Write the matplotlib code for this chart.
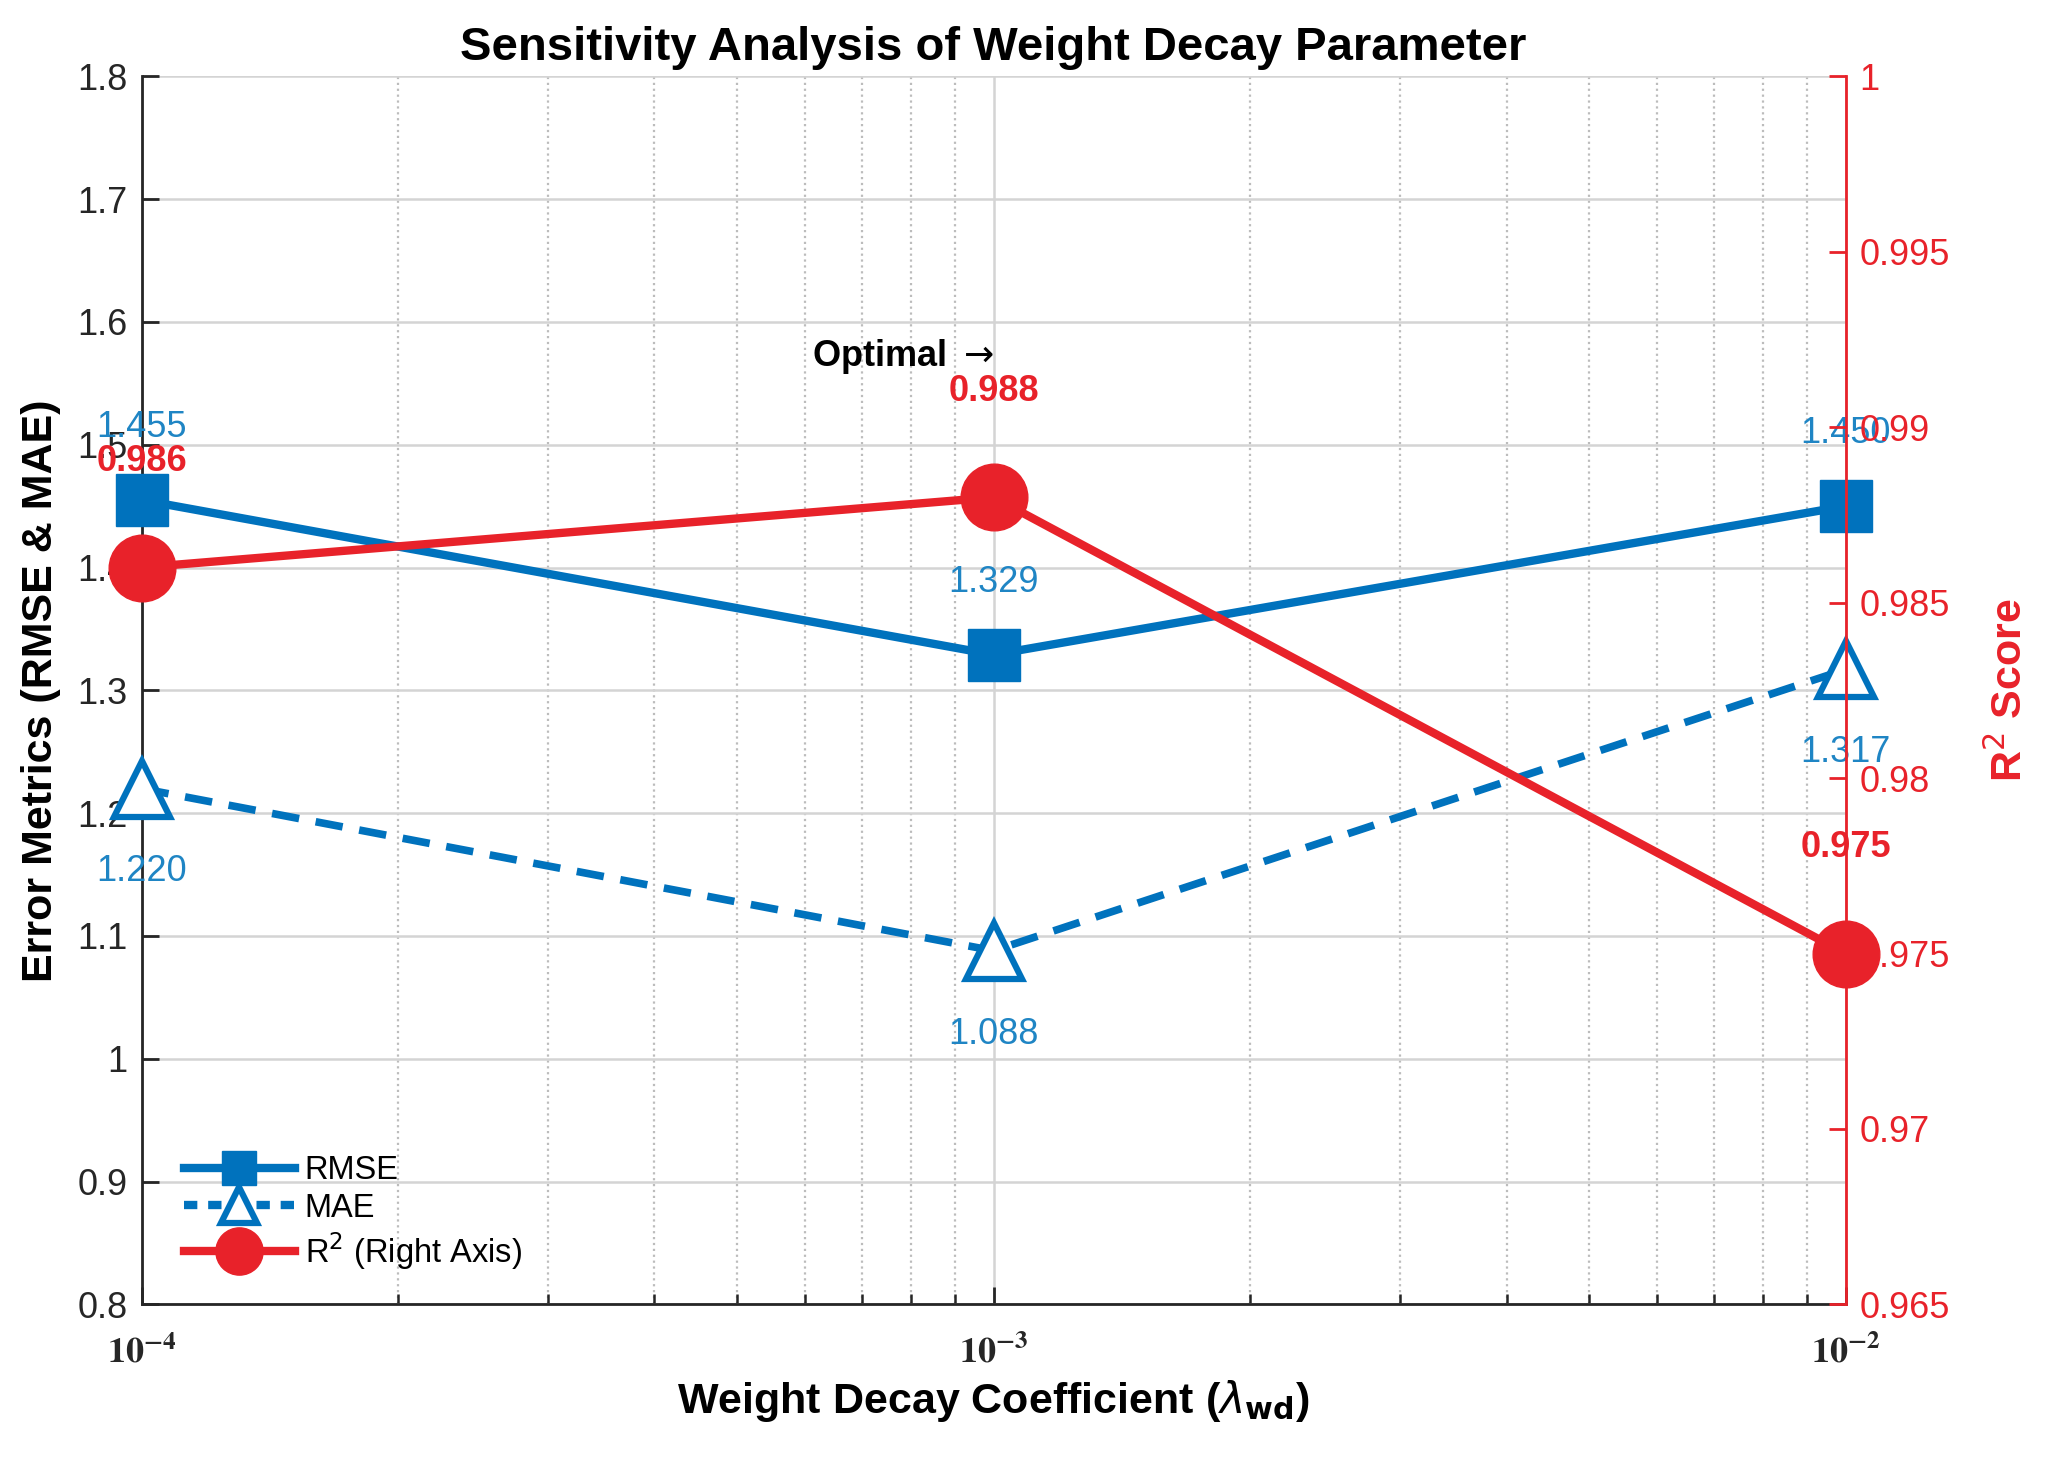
import matplotlib
matplotlib.use("Agg")
import matplotlib.pyplot as plt
from matplotlib.lines import Line2D
from matplotlib.ticker import FixedLocator, LogLocator, NullFormatter

plt.rcParams['font.family'] = ['Liberation Sans', 'DejaVu Sans']

# data
wd = [1e-4, 1e-3, 1e-2]
rmse = [1.455, 1.329, 1.450]
mae = [1.220, 1.088, 1.317]
r2 = [0.986, 0.988, 0.975]

left_ticks = [0.8, 0.9, 1.0, 1.1, 1.2, 1.3, 1.4, 1.5, 1.6, 1.7, 1.8]
left_labels = ['0.8', '0.9', '1', '1.1', '1.2', '1.3', '1.4', '1.5', '1.6', '1.7', '1.8']
right_ticks = [0.965, 0.97, 0.975, 0.98, 0.985, 0.99, 0.995, 1.0]
right_labels = ['0.965', '0.97', '0.975', '0.98', '0.985', '0.99', '0.995', '1']
x_labels = [r'$\mathbf{10^{-4}}$', r'$\mathbf{10^{-3}}$', r'$\mathbf{10^{-2}}$']

blue = '#0072BD'
blue_txt = '#1F85C4'
red = '#E8222A'

fig = plt.figure(figsize=(20.45, 14.66), dpi=100)
ax = fig.add_axes([0.0692, 0.1102, 0.8333, 0.8378])
ax2 = ax.twinx()

# left axis: RMSE and MAE
ax.plot(wd, rmse, '-s', color=blue, lw=6, ms=37, mfc=blue, mec=blue, zorder=3,
        clip_on=False)
ax.plot(wd, mae, '--^', color=blue, lw=5.5, ms=40, mfc='white', mec=blue, mew=4.5,
        dashes=(3.6, 2.2), zorder=3, clip_on=False)

for x, y in zip(wd, rmse):
    ax.annotate('%.3f' % y, (x, y), xytext=(0, 52), textcoords='offset points',
                ha='center', va='center', fontsize=26, color=blue_txt)
for x, y in zip(wd, mae):
    ax.annotate('%.3f' % y, (x, y), xytext=(0, -60), textcoords='offset points',
                ha='center', va='center', fontsize=26, color=blue_txt)

ax.set_xscale('log')
ax.set_xlim(1e-4, 1e-2)
ax.set_ylim(0.8, 1.8)
ax.set_yticks(left_ticks)
ax.set_yticklabels(left_labels)
ax.set_xticks(wd)
ax.set_xticklabels(x_labels, math_fontfamily='stix', fontsize=33)
ax.xaxis.set_minor_locator(LogLocator(base=10, subs=range(2, 10)))
ax.xaxis.set_minor_formatter(NullFormatter())

ax.grid(True, which='major', color='#d4d4d4', lw=1.8, ls='-')
ax.grid(True, which='minor', axis='x', color='#bcbcbc', lw=1.6, ls=':')
ax.set_axisbelow(True)

ax.tick_params(axis='both', which='major', direction='in', length=12, width=2,
               labelsize=26, colors='#262626')
ax.tick_params(axis='x', which='major', pad=22)
ax.tick_params(axis='x', which='minor', direction='in', length=7, width=1.8, colors='#262626')
ax.tick_params(axis='y', which='major', pad=10)

ax.set_xlabel(r'Weight Decay Coefficient ($\lambda_{\mathbf{wd}}$)', fontsize=31,
              fontweight='bold', labelpad=6)
ax.set_ylabel('Error Metrics (RMSE & MAE)', fontsize=31, fontweight='bold', labelpad=12)
ax.set_title('Sensitivity Analysis of Weight Decay Parameter', fontsize=34,
             fontweight='bold', pad=12)

for s in ['top', 'right']:
    ax.spines[s].set_visible(False)
ax.spines['left'].set_linewidth(2)
ax.spines['bottom'].set_linewidth(2)
ax.spines['left'].set_color('#262626')
ax.spines['bottom'].set_color('#262626')

# right axis: R2
ax2.plot(wd, r2, '-o', color=red, lw=6, ms=48, mfc=red, mec=red, zorder=3,
         clip_on=False)
for x, y in zip(wd, r2):
    ax2.annotate('%.3f' % y, (x, y), xytext=(0, 76), textcoords='offset points',
                 ha='center', va='center', fontsize=26, color=red, fontweight='bold')

ax2.text(1e-3, 0.992, r'Optimal $\rightarrow$', ha='right', va='center', fontsize=26,
         fontweight='bold', color='black')

ax2.set_ylim(0.965, 1.0)
ax2.yaxis.set_major_locator(FixedLocator(right_ticks))
ax2.set_yticklabels(right_labels)
ax2.tick_params(axis='y', direction='in', length=12, width=2, labelsize=26,
                colors=red, pad=10)
ax2.set_ylabel(r'R$^2$ Score', fontsize=31, fontweight='bold', color=red, labelpad=28)
for s in ['top', 'left', 'bottom']:
    ax2.spines[s].set_visible(False)
ax2.spines['right'].set_color(red)
ax2.spines['right'].set_linewidth(2)

handles = [
    Line2D([], [], color=blue, lw=6, marker='s', ms=24, mfc=blue, mec=blue),
    Line2D([], [], color=blue, lw=6, ls='--', dashes=(1.6, 1.3), marker='^', ms=26,
           mfc='white', mec=blue, mew=4.5),
    Line2D([], [], color=red, lw=6, marker='o', ms=34, mfc=red, mec=red),
]
ax2.legend(handles, ['RMSE', 'MAE', r'R$^2$ (Right Axis)'], loc='lower left',
           frameon=False, fontsize=23.5, handlelength=3.4, labelspacing=0.2,
           handletextpad=0.3, borderaxespad=0.9, bbox_to_anchor=(0.0, -0.008))

fig.savefig('out.png', dpi=100)
